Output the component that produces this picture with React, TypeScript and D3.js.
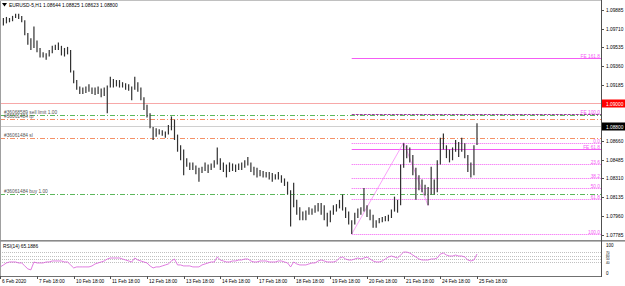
import React from 'react';
import * as d3 from 'd3';

// ---- data ----
const highs = [
  1.0979, 1.0981, 1.0982, 1.0981, 1.0983, 1.0985, 1.0985, 1.0983, 1.0979, 1.0967,
  1.0962, 1.0973, 1.0960, 1.0953, 1.0949, 1.0948, 1.0951, 1.0955, 1.0956, 1.0958,
  1.0955, 1.0953, 1.0954, 1.0951, 1.0932, 1.0923, 1.0917, 1.0916, 1.0917, 1.0919,
  1.0916, 1.0916, 1.0917, 1.0915, 1.0916, 1.0918, 1.0926, 1.0924, 1.0923, 1.0923,
  1.0921, 1.0920, 1.0919, 1.0917, 1.0926, 1.0921, 1.0916, 1.0907, 1.0900, 1.0892,
  1.0879, 1.0878, 1.0877, 1.0876, 1.0875, 1.0881, 1.0889, 1.0886, 1.0872, 1.0862,
  1.0858, 1.0850, 1.0846, 1.0846, 1.0843, 1.0841, 1.0842, 1.0846, 1.0844, 1.0845,
  1.0848, 1.0860, 1.0850, 1.0846, 1.0844, 1.0846, 1.0845, 1.0844, 1.0845, 1.0846,
  1.0848, 1.0851, 1.0846, 1.0842, 1.0841, 1.0839, 1.0838, 1.0837, 1.0837, 1.0836,
  1.0835, 1.0837, 1.0834, 1.0831, 1.0828, 1.0820, 1.0827, 1.0811, 1.0804, 1.0800,
  1.0801, 1.0804, 1.0803, 1.0806, 1.0808, 1.0808, 1.0806, 1.0799, 1.0801, 1.0806,
  1.0807, 1.0811, 1.0816, 1.0804, 1.0800, 1.0792, 1.0799, 1.0803, 1.0804, 1.0822,
  1.0806, 1.0802, 1.0797, 1.0792, 1.0794, 1.0795, 1.0796, 1.0797, 1.0802, 1.0814,
  1.0811, 1.0844, 1.0864, 1.0862, 1.0860, 1.0853, 1.0841, 1.0834, 1.0830, 1.0825,
  1.0823, 1.0842, 1.0830, 1.0848, 1.0869, 1.0873, 1.0862, 1.0858, 1.0860, 1.0867,
  1.0865, 1.0869, 1.0864, 1.0853, 1.0846, 1.0862, 1.08825,
];
const lows = [
  1.0973, 1.0974, 1.0976, 1.0977, 1.0978, 1.0981, 1.0980, 1.0977, 1.0965, 1.0956,
  1.0951, 1.0953, 1.0949, 1.0944, 1.0944, 1.0942, 1.0945, 1.0948, 1.0951, 1.0951,
  1.0946, 1.0945, 1.0947, 1.0930, 1.0920, 1.0914, 1.0910, 1.0910, 1.0911, 1.0912,
  1.0910, 1.0909, 1.0910, 1.0907, 1.0908, 1.0892, 1.0916, 1.0916, 1.0917, 1.0916,
  1.0916, 1.0914, 1.0913, 1.0904, 1.0914, 1.0912, 1.0904, 1.0895, 1.0888, 1.0878,
  1.0867, 1.0870, 1.0872, 1.0871, 1.0869, 1.0872, 1.0876, 1.0867, 1.0856, 1.0848,
  1.0834, 1.0842, 1.0839, 1.0839, 1.0835, 1.0828, 1.0836, 1.0838, 1.0836, 1.0839,
  1.0841, 1.0844, 1.0839, 1.0837, 1.0832, 1.0837, 1.0838, 1.0837, 1.0839, 1.0839,
  1.0841, 1.0843, 1.0837, 1.0834, 1.0832, 1.0833, 1.0832, 1.0832, 1.0830, 1.0828,
  1.0830, 1.0830, 1.0827, 1.0824, 1.0816, 1.0786, 1.0804, 1.0797, 1.0792, 1.0792,
  1.0792, 1.0797, 1.0797, 1.0799, 1.0800, 1.0797, 1.0792, 1.0786, 1.0790, 1.0797,
  1.0800, 1.0803, 1.0801, 1.0794, 1.0788, 1.0779, 1.0788, 1.0794, 1.0797, 1.0800,
  1.0795, 1.0792, 1.0785, 1.0785, 1.0789, 1.0790, 1.0791, 1.0791, 1.0794, 1.0800,
  1.0799, 1.0806, 1.0841, 1.0850, 1.0846, 1.0834, 1.0811, 1.0820, 1.0818, 1.0815,
  1.0806, 1.0816, 1.0816, 1.0818, 1.0844, 1.0858, 1.0850, 1.0846, 1.0848, 1.0856,
  1.0851, 1.0856, 1.0850, 1.0837, 1.0832, 1.0834, 1.08623,
];
const rsiValues = [
  26, 32, 38, 41, 41, 41, 38, 38, 29, 20, 17, 41, 38, 38, 38, 41, 41, 44, 44, 44,
  44, 41, 41, 32, 23, 26, 26, 26, 26, 26, 29, 35, 38, 41, 44, 50, 53, 53, 53, 53,
  50, 47, 44, 41, 53, 47, 44, 41, 38, 29, 23, 26, 26, 29, 32, 35, 44, 50, 32, 32,
  29, 29, 29, 26, 26, 26, 32, 35, 38, 41, 41, 56, 47, 44, 41, 41, 44, 44, 47, 47,
  50, 50, 44, 41, 41, 44, 44, 44, 41, 41, 41, 44, 44, 41, 38, 26, 41, 35, 32, 32,
  32, 35, 38, 38, 44, 47, 44, 41, 41, 41, 44, 53, 56, 50, 47, 47, 50, 53, 50, 53,
  56, 50, 44, 41, 41, 44, 50, 56, 59, 56, 53, 62, 71, 71, 68, 62, 56, 50, 47, 47,
  47, 50, 50, 53, 65, 68, 62, 59, 59, 62, 59, 59, 56, 47, 44, 47, 65.1886,
];
const timeLabels = [
  '6 Feb 2020', '7 Feb 18:00', '10 Feb 18:00', '11 Feb 18:00', '12 Feb 18:00',
  '13 Feb 18:00', '14 Feb 18:00', '17 Feb 18:00', '18 Feb 18:00', '19 Feb 18:00',
  '20 Feb 18:00', '21 Feb 18:00', '24 Feb 18:00', '25 Feb 18:00',
];
const barsPerLabel = 12;
const priceTicks = [
  1.09885, 1.0971, 1.09535, 1.0936, 1.09185, 1.08660, 1.08485, 1.0831, 1.08135, 1.0796, 1.07785,
];
const lastBar = { open: 1.08644, high: 1.08825, low: 1.08623, close: 1.088 };
const alertLine = { price: 1.09012, label: '1.09000' };
const orderLines = [
  { text: '#36068589 sell limit 1.00', price: 1.08906, kind: 'entry' },
  { text: '#36061484 tp', price: 1.08863, kind: 'stop' },
  { text: '#36061484 sl', price: 1.08691, kind: 'stop' },
  { text: '#36061484 buy 1.00', price: 1.08165, kind: 'entry' },
];
const fibLevels = [0, 23.6, 38.2, 50, 61.8, 100];
const feLevels = [61.8, 100, 161.8];
const fibA = { bar: 115, price: 1.0779 };
const fibB = { bar: 132, price: 1.08645 };
const fibC = { bar: 140, price: 1.08055 };
const rsiLevels = [70, 60, 50, 40];

// ---- layout ----
const W = 625;
const H = 286;
const axisX = 601;
const mainBottom = 240;
const rsiTop = 242;
const rsiBottom = 276;
const font = 'Liberation Sans, Arial, sans-serif';
const MAG = '#f45cf4';
const GREEN = '#5cb85c';
const ORANGE = '#f59066';

export default function App() {
  const x = d3.scaleLinear().domain([0, 156]).range([0.33, 477]);
  const y = d3.scaleLinear().domain([1.07785, 1.09885]).range([234.6, 10]);
  const ry = d3.scaleLinear().domain([0, 100]).range([275.5, 242.5]);
  const fmt = d3.format('.5f');

  const rsiLine = d3
    .line<number>()
    .x((_, i) => x(i))
    .y((v) => ry(v))(rsiValues) as string;

  const span = fibB.price - fibA.price;
  const fibStartX = x(fibA.bar);
  const bidY = Math.round(y(lastBar.close)) + 0.5;
  const alertY = Math.round(y(alertLine.price)) + 0.5;

  return (
    <svg
      width={W}
      height={H}
      style={{ position: 'fixed', left: 0, top: 0, background: '#fff' }}
      fontFamily={font}
    >
      <defs>
        <clipPath id="mainClip">
          <rect x={0} y={0} width={axisX} height={mainBottom} />
        </clipPath>
        <clipPath id="rsiClip">
          <rect x={0} y={rsiTop} width={axisX} height={rsiBottom - rsiTop} />
        </clipPath>
      </defs>
      <rect x={0} y={0} width={W} height={H} fill="#fff" />

      <g clipPath="url(#mainClip)">
        {/* alert line */}
        <line x1={0} x2={axisX} y1={alertY} y2={alertY} stroke="#f7a8a8" strokeWidth={1} />
        {/* bid line */}
        <line x1={0} x2={axisX} y1={bidY} y2={bidY} stroke="#d0d0d0" strokeWidth={1} />
        {/* order lines */}
        {orderLines.map((o) => {
          const py = Math.round(y(o.price)) + 0.5;
          return (
            <g key={o.text}>
              <line
                x1={0}
                x2={axisX}
                y1={py}
                y2={py}
                stroke={o.kind === 'entry' ? GREEN : ORANGE}
                strokeDasharray="5,2,1,2"
              />
              <text x={4} y={py - 1.5} fontSize={4.8} fill="#555">
                {o.text}
              </text>
            </g>
          );
        })}
        {/* fib retracement levels */}
        {fibLevels.map((lv) => {
          const py = Math.round(y(fibB.price - (span * lv) / 100)) + 0.5;
          return (
            <g key={'fr' + lv}>
              <line x1={fibStartX} x2={axisX} y1={py} y2={py} stroke={MAG} strokeDasharray="1,1" />
              <text x={600} y={py - 1} fontSize={4.8} fill={MAG} textAnchor="end">
                {lv.toFixed(1)}
              </text>
            </g>
          );
        })}
        {/* fib expansion levels */}
        {feLevels.map((lv) => {
          const py = Math.round(y(fibC.price + (span * lv) / 100)) + 0.5;
          return (
            <g key={'fe' + lv}>
              <line
                x1={fibStartX}
                x2={axisX}
                y1={py}
                y2={py}
                stroke={lv === 100 ? '#a03ca0' : MAG}
                strokeDasharray={lv === 100 ? '3,1' : undefined}
                strokeWidth={1}
              />
              <text x={600} y={py - 1} fontSize={4.8} fill={MAG} textAnchor="end">
                {'FE ' + lv.toFixed(1)}
              </text>
            </g>
          );
        })}
        {/* fib trend lines */}
        <polyline
          points={[fibA, fibB, fibC].map((p) => `${x(p.bar)},${y(p.price)}`).join(' ')}
          fill="none"
          stroke="#f88cf8"
          strokeWidth={0.8}
        />
        {/* price bars */}
        {highs.map((h, i) => (
          <line
            key={'b' + i}
            x1={x(i)}
            x2={x(i)}
            y1={y(h)}
            y2={y(lows[i])}
            stroke="#303030"
            strokeWidth={1.2}
          />
        ))}
      </g>

      {/* title */}
      <path d="M2,3 L7,3 L4.5,6.5 Z" fill="#000" />
      <text x={9} y={7} fontSize={4.9} fill="#000">
        {`EURUSD-5,H1  ${fmt(lastBar.open)} ${fmt(lastBar.high)} ${fmt(lastBar.low)} ${fmt(lastBar.close)}`}
      </text>

      {/* RSI panel */}
      <g clipPath="url(#rsiClip)">
        {rsiLevels.map((lv) => (
          <line
            key={'rl' + lv}
            x1={0}
            x2={axisX}
            y1={Math.round(ry(lv)) + 0.5}
            y2={Math.round(ry(lv)) + 0.5}
            stroke="#c0c0c0"
            strokeDasharray="1,1"
          />
        ))}
        <path d={rsiLine} fill="none" stroke="#d85ad8" strokeWidth={0.8} />
      </g>
      <text x={3} y={248} fontSize={4.8} fill="#000">
        {`RSI(14) ${rsiValues[rsiValues.length - 1].toFixed(4)}`}
      </text>

      {/* frames */}
      <line x1={0.5} x2={0.5} y1={0} y2={rsiBottom} stroke="#a0a0a0" />
      <line x1={0} x2={axisX} y1={0.5} y2={0.5} stroke="#c0c0c0" />
      <rect x={0} y={mainBottom} width={W} height={1.6} fill="#8a8a8a" />
      <line x1={0} x2={axisX} y1={rsiBottom + 0.5} y2={rsiBottom + 0.5} stroke="#707070" />
      <line x1={axisX + 0.5} x2={axisX + 0.5} y1={0} y2={rsiBottom + 1} stroke="#505050" />

      {/* price axis */}
      {priceTicks.map((p) => (
        <g key={'pt' + p}>
          <line x1={axisX} x2={axisX + 3} y1={Math.round(y(p)) + 0.5} y2={Math.round(y(p)) + 0.5} stroke="#505050" />
          <text x={606} y={y(p) + 2} fontSize={4.8} fill="#000">
            {fmt(p)}
          </text>
        </g>
      ))}
      <rect x={axisX + 1} y={alertY - 4} width={W - axisX - 1} height={8} fill="#ff0000" />
      <text x={606} y={alertY + 2} fontSize={4.8} fill="#fff">
        {alertLine.label}
      </text>
      <rect x={axisX + 1} y={bidY - 4} width={W - axisX - 1} height={8} fill="#000" />
      <text x={606} y={bidY + 2} fontSize={4.8} fill="#fff">
        {fmt(lastBar.close)}
      </text>

      {/* RSI axis */}
      <text x={606} y={246.5} fontSize={4.5} fill="#000">100</text>
      {rsiLevels.map((lv) => (
        <text key={'rt' + lv} x={606} y={ry(lv) + 1.3} fontSize={3.2} fill="#000">
          {lv}
        </text>
      ))}
      <text x={606} y={275} fontSize={4.5} fill="#000">0</text>

      {/* time axis */}
      {timeLabels.map((t, k) => {
        const tx = k === 0 ? 0.5 : Math.round(x(k * barsPerLabel)) + 0.5;
        return (
          <g key={t}>
            <line x1={tx} x2={tx} y1={rsiBottom} y2={rsiBottom + 3} stroke="#505050" />
            <text x={tx + 1.5} y={283} fontSize={4.8} fill="#000">
              {t}
            </text>
          </g>
        );
      })}
    </svg>
  );
}
